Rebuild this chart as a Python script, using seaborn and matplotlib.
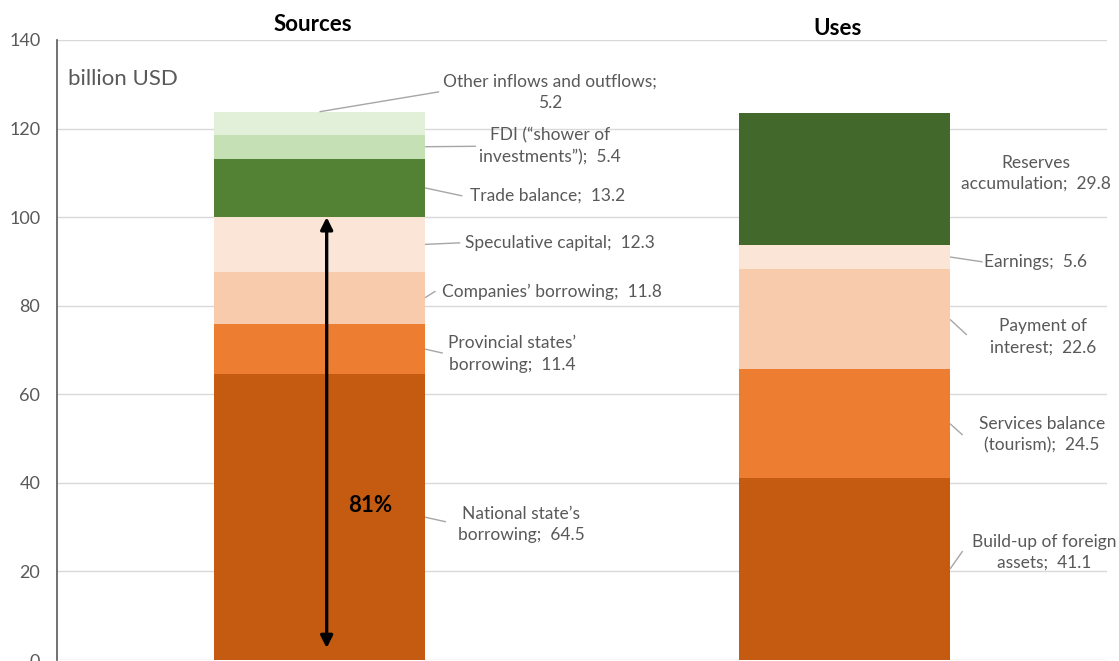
import numpy as np
import pandas as pd
import matplotlib
matplotlib.use("Agg")
import matplotlib.pyplot as plt
import seaborn as sns

# ---- data (billion USD) ----
bars = ["Sources", "Uses"]

source_names = [
    "National state’s\nborrowing",
    "Provincial states’\nborrowing",
    "Companies’ borrowing",
    "Speculative capital",
    "Trade balance",
    "FDI (“shower of\ninvestments”)",
    "Other inflows and outflows",
]
source_values = [64.5, 11.4, 11.8, 12.3, 13.2, 5.4, 5.2]

use_names = [
    "Build-up of foreign\nassets",
    "Services balance\n(tourism)",
    "Payment of\ninterest",
    "Earnings",
    "Reserves\naccumulation",
]
use_values = [41.1, 24.5, 22.6, 5.6, 29.8]

share_label = "81%"
unit_label = "billion USD"
y_ticks = [0, 20, 40, 60, 80, 100, 120, 140]

# ---- styling ----
source_colors = ["#C55A11", "#ED7D31", "#F8CBAD", "#FBE5D6",
                 "#548235", "#C5E0B4", "#E2F0D9"]
use_colors = ["#C55A11", "#ED7D31", "#F8CBAD", "#FBE5D6", "#43682B"]

TEXT = "#595959"
LEADER = "#A6A6A6"
BAR_W = 0.402
LABEL_SIZE = 12.5

sns.set_theme(style="white")
plt.rcParams["font.family"] = ["Lato", "DejaVu Sans"]

fig = plt.figure(figsize=(11.19, 6.61), dpi=100)
ax = fig.add_axes([0.0509, 0.0015, 0.9384, 0.938])


def stack(name, values, colors):
    bottom = 0.0
    mids = []
    for v, c in zip(values, colors):
        df = pd.DataFrame({"bar": [name], "value": [v]})
        sns.barplot(data=df, x="bar", y="value", order=bars, color=c,
                    width=BAR_W, bottom=bottom, errorbar=None,
                    saturation=1, linewidth=0, ax=ax)
        mids.append(bottom + v / 2)
        bottom += v
    return mids, bottom


src_mids, src_top = stack("Sources", source_values, source_colors)
use_mids, use_top = stack("Uses", use_values, use_colors)

# axes cosmetics
ax.set_xlim(-0.5, 1.5)
ax.set_ylim(0, 140)
ax.set_yticks(y_ticks)
ax.set_xticks([])
ax.set_xlabel("")
ax.set_ylabel("")
ax.yaxis.grid(True, color="#D9D9D9", linewidth=1)
ax.set_axisbelow(True)
for s in ["top", "right", "bottom"]:
    ax.spines[s].set_visible(False)
ax.spines["left"].set_color("#595959")
ax.spines["left"].set_linewidth(1.2)
ax.tick_params(axis="y", direction="in", length=5, width=1, color="#595959",
               labelcolor=TEXT, labelsize=13, pad=12)

# bar titles
ax.text(-0.012, 143.4, bars[0], ha="center", va="center", fontsize=16,
        fontweight="bold", color="black", clip_on=False)
ax.text(0.986, 142.7, bars[1], ha="center", va="center", fontsize=16,
        fontweight="bold", color="black", clip_on=False)

ax.text(-0.479, 131.2, unit_label, ha="left", va="center", fontsize=16,
        color=TEXT)

# data labels with leader lines:
# (text x, text y, leader start x, leader end x, leader end y, separator)
half = BAR_W / 2
src_layout = [
    (0.384, 30.6, half, 0.241, 31.2, ";  "),
    (0.367, 69.1, half, 0.235, 69.3, ";  "),
    (0.443, 83.1, half, 0.221, 83.3, ";  "),
    (0.4585, 94.2, half, 0.268, 94.2, ";  "),
    (0.434, 104.8, half, 0.272, 104.8, ";  "),
    (0.439, 116.0, half, 0.298, 116.0, ";  "),
    (0.439, 128.2, 0.0, 0.228, 128.3, ";\n"),
]
use_layout = [
    (1.380, 24.3, 1 + half, 1.225, 24.6, ";  "),
    (1.376, 50.9, 1 + half, 1.225, 50.8, ";  "),
    (1.378, 73.0, 1 + half, 1.233, 73.4, ";  "),
    (1.364, 89.9, 1 + half, 1.263, 89.9, ";  "),
    (1.364, 109.9, None, None, None, ";  "),
]


def annotate(names, values, mids, top, layout):
    for n, v, m, lay in zip(names, values, mids, layout):
        tx, ty, sx, ex, ey, sep = lay
        ax.text(tx, ty, f"{n}{sep}{v}", ha="center", va="center",
                fontsize=LABEL_SIZE, color=TEXT, linespacing=1.4)
        if sx is not None:
            sy = top if sx == 0.0 else m
            ax.plot([sx, ex], [sy, ey], color=LEADER, linewidth=1,
                    solid_capstyle="butt")


annotate(source_names, source_values, src_mids, src_top, src_layout)
annotate(use_names, use_values, use_mids, use_top, use_layout)

# share of borrowing + speculative capital in total sources
arrow_top = sum(source_values[:4])
ax.annotate("", xy=(0.0137, arrow_top), xytext=(0.0137, 2.7),
            arrowprops=dict(arrowstyle="<|-|>", color="black", lw=2.4,
                            mutation_scale=18, shrinkA=0, shrinkB=0))
ax.text(0.096, 35.0, share_label, ha="center", va="center", fontsize=16,
        fontweight="bold", color="black")

fig.savefig("out.png", dpi=100)
